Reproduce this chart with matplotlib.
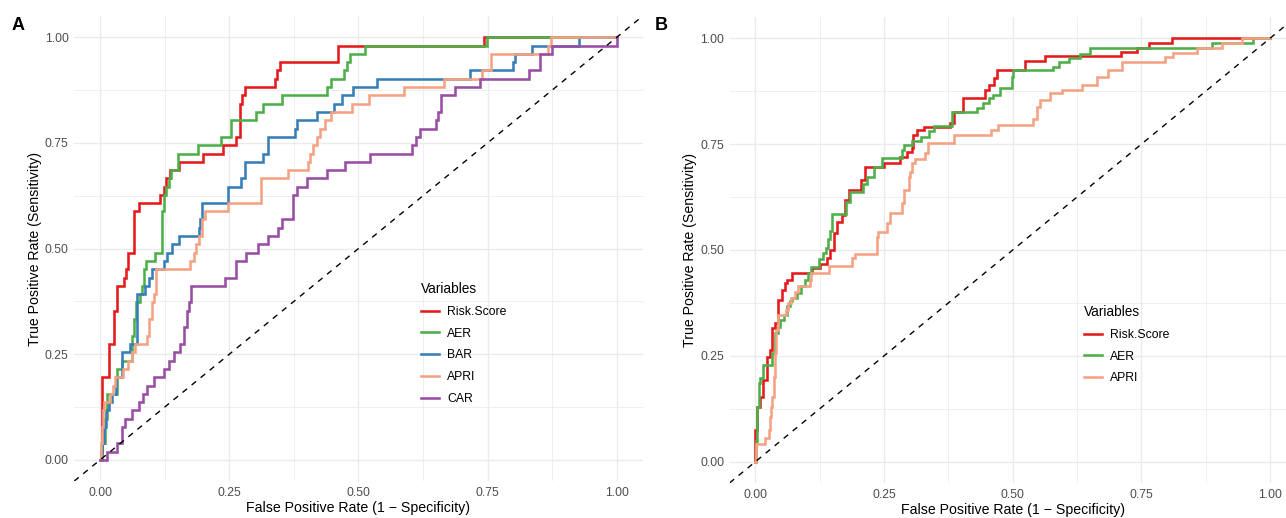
import matplotlib
matplotlib.use("Agg")
import matplotlib.pyplot as plt
from matplotlib.ticker import MultipleLocator

plt.rcParams['font.family'] = ['Liberation Sans', 'DejaVu Sans']

# ---------------- Panel A data ----------------
a_risk_fpr = [0, 0.003, 0.0175, 0.028, 0.032, 0.047, 0.050, 0.055, 0.066, 0.076, 0.117, 0.123, 0.128, 0.136, 0.152,
              0.200, 0.238, 0.263, 0.271, 0.274, 0.280, 0.338, 0.343, 0.348, 0.461, 0.743, 1.0]
a_risk_tpr = [0, 0.196, 0.275, 0.353, 0.412, 0.431, 0.451, 0.490, 0.588, 0.608, 0.627, 0.647, 0.667, 0.686, 0.706,
              0.725, 0.745, 0.765, 0.843, 0.863, 0.882, 0.902, 0.922, 0.941, 0.980, 1.0, 1.0]

a_aer_fpr = [0, 0.004, 0.010, 0.014, 0.032, 0.042, 0.061, 0.065, 0.070, 0.078, 0.081, 0.0855, 0.089, 0.106, 0.119,
             0.124, 0.128, 0.133, 0.138, 0.151, 0.190, 0.235, 0.253, 0.302, 0.316, 0.353, 0.439, 0.448, 0.472, 0.478,
             0.483, 0.512, 0.749, 1.0]
a_aer_tpr = [0, 0.039, 0.098, 0.157, 0.216, 0.235, 0.294, 0.333, 0.373, 0.392, 0.412, 0.451, 0.471, 0.490, 0.588,
             0.627, 0.647, 0.667, 0.686, 0.725, 0.745, 0.765, 0.804, 0.824, 0.843, 0.863, 0.882, 0.902, 0.922, 0.941,
             0.961, 0.980, 1.0, 1.0]

a_bar_fpr = [0, 0.001, 0.004, 0.008, 0.012, 0.018, 0.024, 0.030, 0.042, 0.058, 0.071, 0.0875, 0.094, 0.100, 0.123,
             0.130, 0.139, 0.152, 0.191, 0.194, 0.198, 0.248, 0.272, 0.280, 0.316, 0.326, 0.377, 0.382, 0.419, 0.452,
             0.468, 0.490, 0.536, 0.717, 0.800, 0.803, 0.836, 0.927, 1.0]
a_bar_tpr = [0, 0.020, 0.039, 0.078, 0.118, 0.137, 0.157, 0.196, 0.255, 0.275, 0.392, 0.412, 0.431, 0.451, 0.471,
             0.490, 0.510, 0.529, 0.549, 0.569, 0.608, 0.647, 0.667, 0.706, 0.725, 0.765, 0.784, 0.804, 0.824, 0.843,
             0.863, 0.882, 0.902, 0.922, 0.941, 0.961, 0.980, 1.0, 1.0]

a_apri_fpr = [0, 0.001, 0.003, 0.005, 0.008, 0.019, 0.026, 0.029, 0.045, 0.055, 0.062, 0.067, 0.091, 0.095, 0.100,
              0.104, 0.109, 0.175, 0.181, 0.186, 0.191, 0.198, 0.204, 0.248, 0.311, 0.364, 0.403, 0.406, 0.413, 0.419,
              0.426, 0.435, 0.448, 0.487, 0.520, 0.589, 0.665, 0.739, 0.756, 0.867, 0.873, 1.0]
a_apri_tpr = [0, 0.039, 0.078, 0.118, 0.137, 0.157, 0.176, 0.196, 0.216, 0.235, 0.255, 0.275, 0.294, 0.333, 0.373,
              0.392, 0.451, 0.471, 0.490, 0.510, 0.529, 0.569, 0.588, 0.608, 0.667, 0.686, 0.706, 0.725, 0.745, 0.765,
              0.784, 0.804, 0.824, 0.843, 0.863, 0.882, 0.902, 0.922, 0.961, 0.980, 1.0, 1.0]

a_car_fpr = [0, 0.013, 0.032, 0.042, 0.049, 0.062, 0.075, 0.084, 0.091, 0.104, 0.123, 0.133, 0.143, 0.154, 0.162,
             0.169, 0.173, 0.177, 0.242, 0.263, 0.282, 0.306, 0.326, 0.345, 0.353, 0.373, 0.382, 0.401, 0.439, 0.474,
             0.522, 0.604, 0.611, 0.620, 0.651, 0.655, 0.660, 0.688, 0.736, 0.831, 0.852, 0.875, 1.0]
a_car_tpr = [0, 0.020, 0.039, 0.078, 0.098, 0.118, 0.137, 0.157, 0.176, 0.196, 0.216, 0.235, 0.255, 0.275, 0.314,
             0.353, 0.373, 0.412, 0.431, 0.471, 0.490, 0.510, 0.529, 0.549, 0.569, 0.627, 0.647, 0.667, 0.686, 0.706,
             0.725, 0.745, 0.765, 0.784, 0.804, 0.824, 0.863, 0.882, 0.902, 0.922, 0.961, 0.980, 1.0]

# ---------------- Panel B data ----------------
b_risk_fpr = [0, 0.000, 0.003, 0.010, 0.015, 0.023, 0.029, 0.032, 0.039, 0.045, 0.052, 0.058, 0.062, 0.071, 0.110,
              0.126, 0.139, 0.146, 0.152, 0.159, 0.168, 0.175, 0.181, 0.205, 0.214, 0.249, 0.281, 0.294, 0.304, 0.307,
              0.314, 0.327, 0.379, 0.385, 0.404, 0.446, 0.453, 0.463, 0.469, 0.524, 0.562, 0.711, 0.741, 0.764, 0.810, 1.0]
b_risk_tpr = [0, 0.075, 0.130, 0.154, 0.193, 0.248, 0.264, 0.315, 0.327, 0.382, 0.406, 0.421, 0.430, 0.445, 0.458,
              0.468, 0.480, 0.500, 0.539, 0.567, 0.583, 0.618, 0.642, 0.665, 0.697, 0.705, 0.720, 0.732, 0.740, 0.772,
              0.783, 0.791, 0.799, 0.827, 0.858, 0.878, 0.890, 0.906, 0.925, 0.946, 0.957, 0.968, 0.978, 0.989, 1.0, 1.0]

b_aer_fpr = [0, 0.002, 0.004, 0.0065, 0.0084, 0.015, 0.032, 0.039, 0.045, 0.0485, 0.056, 0.062, 0.067, 0.071, 0.080,
             0.089, 0.096, 0.102, 0.109, 0.123, 0.1315, 0.138, 0.142, 0.1456, 0.149, 0.177, 0.183, 0.209, 0.217, 0.231,
             0.246, 0.2854, 0.288, 0.305, 0.321, 0.337, 0.347, 0.382, 0.430, 0.443, 0.453, 0.4625, 0.475, 0.498, 0.501,
             0.579, 0.589, 0.610, 0.631, 0.650, 0.888, 0.966, 1.0]
b_aer_tpr = [0, 0.05, 0.13, 0.185, 0.197, 0.228, 0.256, 0.303, 0.319, 0.335, 0.347, 0.367, 0.379, 0.387, 0.398,
             0.415, 0.428, 0.445, 0.461, 0.478, 0.492, 0.505, 0.525, 0.545, 0.585, 0.614, 0.638, 0.655, 0.673, 0.697,
             0.717, 0.737, 0.748, 0.757, 0.766, 0.780, 0.792, 0.827, 0.835, 0.847, 0.859, 0.867, 0.882, 0.909, 0.925,
             0.933, 0.943, 0.953, 0.964, 0.978, 0.988, 1.0, 1.0]

b_apri_fpr = [0, 0.002, 0.019, 0.026, 0.028, 0.031, 0.033, 0.0356, 0.0376, 0.041, 0.044, 0.060, 0.0635, 0.070, 0.077,
              0.083, 0.106, 0.109, 0.143, 0.187, 0.193, 0.236, 0.239, 0.256, 0.262, 0.285, 0.288, 0.298, 0.301, 0.304,
              0.311, 0.330, 0.336, 0.385, 0.458, 0.471, 0.540, 0.547, 0.553, 0.573, 0.595, 0.634, 0.663, 0.686, 0.712,
              0.796, 0.812, 0.858, 0.906, 0.945, 1.0]
b_apri_tpr = [0, 0.043, 0.055, 0.074, 0.106, 0.129, 0.154, 0.200, 0.256, 0.311, 0.347, 0.359, 0.375, 0.387, 0.400,
              0.414, 0.430, 0.446, 0.462, 0.482, 0.490, 0.531, 0.543, 0.563, 0.587, 0.610, 0.642, 0.673, 0.685, 0.705,
              0.715, 0.728, 0.752, 0.772, 0.783, 0.796, 0.810, 0.838, 0.854, 0.870, 0.877, 0.889, 0.908, 0.924, 0.943,
              0.955, 0.966, 0.978, 0.989, 1.0, 1.0]

tick_values = [0.00, 0.25, 0.50, 0.75, 1.00]
tick_labels = ["0.00", "0.25", "0.50", "0.75", "1.00"]

colors = {"Risk.Score": "#E41A1C", "AER": "#4DAF4A", "BAR": "#377EB8", "APRI": "#F4A283", "CAR": "#984EA3"}

panel_a = [("Risk.Score", a_risk_fpr, a_risk_tpr), ("AER", a_aer_fpr, a_aer_tpr), ("BAR", a_bar_fpr, a_bar_tpr),
           ("APRI", a_apri_fpr, a_apri_tpr), ("CAR", a_car_fpr, a_car_tpr)]
panel_b = [("Risk.Score", b_risk_fpr, b_risk_tpr), ("AER", b_aer_fpr, b_aer_tpr), ("APRI", b_apri_fpr, b_apri_tpr)]

W, H = 1286, 518
fig = plt.figure(figsize=(W / 100, H / 100), dpi=100)


def px_axes(x0, x1, y0, y1):
    return fig.add_axes([x0 / W, 1 - y1 / H, (x1 - x0) / W, (y1 - y0) / H])


def style(ax):
    ax.set_xlim(-0.05, 1.05)
    ax.set_ylim(-0.05, 1.05)
    ax.set_facecolor("white")
    for s in ax.spines.values():
        s.set_visible(False)
    ax.set_xticks(tick_values)
    ax.set_xticklabels(tick_labels)
    ax.set_yticks(tick_values)
    ax.set_yticklabels(tick_labels)
    ax.xaxis.set_minor_locator(MultipleLocator(0.125))
    ax.yaxis.set_minor_locator(MultipleLocator(0.125))
    ax.tick_params(which="both", length=0)
    ax.tick_params(axis="x", pad=4.5, labelsize=8.8, labelcolor="#4D4D4D")
    ax.tick_params(axis="y", pad=4, labelsize=8.8, labelcolor="#4D4D4D")
    ax.grid(which="major", color="#EBEBEB", lw=1.0)
    ax.grid(which="minor", color="#EBEBEB", lw=0.55)
    ax.set_axisbelow(True)
    ax.set_xlabel("False Positive Rate (1 \u2212 Specificity)", fontsize=10.2, labelpad=1)
    ax.set_ylabel("True Positive Rate (Sensitivity)", fontsize=10.2, labelpad=2)


def draw(ax, series, leg_anchor):
    for name, fx, ty in series:
        ax.step(fx, ty, where="post", color=colors[name], lw=1.85, label=name, solid_joinstyle="miter")
    ax.axline((0, 0), slope=1, color="black", lw=1.0, ls=(0, (4.2, 4.2)))
    ax.legend(title="Variables", loc="upper left", bbox_to_anchor=leg_anchor,
              bbox_transform=fig.transFigure, frameon=False, fontsize=8.8, title_fontsize=9.8,
              handlelength=1.5, handletextpad=0.65, labelspacing=0.8, alignment="left",
              borderaxespad=0, borderpad=0)


axA = px_axes(74.2, 642.5, 16.2, 481.1)
style(axA)
draw(axA, panel_a, (421 / W, 1 - 282 / H))

axB = px_axes(729.6, 1295.8, 17.1, 482.9)
style(axB)
draw(axB, panel_b, (1084 / W, 1 - 305 / H))

fig.text(12 / W, 1 - 26 / H, "A", fontsize=13, fontweight="bold", va="center", ha="left")
fig.text(655 / W, 1 - 26 / H, "B", fontsize=13, fontweight="bold", va="center", ha="left")

fig.savefig("out.png", dpi=100, facecolor="white")
